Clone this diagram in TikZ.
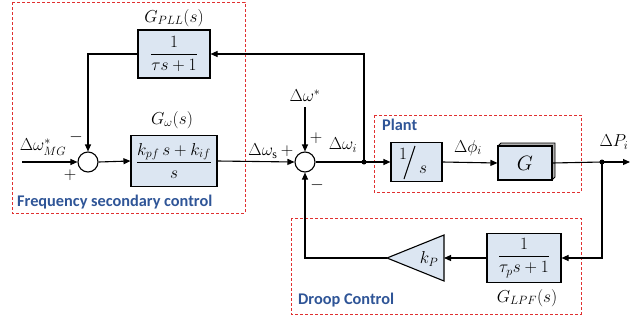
\documentclass[tikz,border=0pt]{standalone}
\usepackage{amsmath}
\usepackage{fontspec}
\setmainfont{Liberation Serif}
\newfontfamily\labfont{Carlito}
\usetikzlibrary{arrows.meta}
\definecolor{boxfill}{HTML}{DCE6F2}
\definecolor{grpred}{HTML}{E03030}
\definecolor{grpblue}{HTML}{2F5597}
\begin{document}
\begin{tikzpicture}[x=1pt,y=-1pt,
  blk/.style={draw,line width=1.1pt,fill=boxfill,inner sep=0pt,font=\fontsize{18}{20}\selectfont},
  sumc/.style={circle,draw,line width=1.1pt,fill=white,minimum size=20pt,inner sep=0pt},
  wire/.style={line width=1.1pt},
  arr/.style={wire,-{Triangle[length=7pt,width=6pt]}},
  grp/.style={draw=grpred,dash pattern=on 3pt off 2pt,line width=0.9pt},
  grplab/.style={font=\labfont\bfseries\fontsize{16.3}{18}\selectfont,text=grpblue,anchor=west,inner sep=0pt},
  lab/.style={font=\fontsize{17}{20}\selectfont,inner sep=0pt},
  dot/.style={circle,fill,inner sep=0pt,minimum size=5pt}]
\useasboundingbox (0,0) rectangle (641,322);
% groups
\draw[grp] (12,2) rectangle (245,213);
\draw[grp] (374,115) rectangle (581,192);
\draw[grp] (291,218) rectangle (581,314);
\node[grplab] (fsc) at (17,202) {Frequency secondary control};
\node[grplab] (plantl) at (382,125) {Plant};
\node[grplab] (droopl) at (298,300) {Droop Control};
% blocks
\node[sumc] (s1) at (88,162) {};
\node[sumc] (s2) at (305,162) {};
\node[blk,minimum width=72pt,minimum height=48pt] (gpll) at (174,54) {$\dfrac{1}{\tau s+1}$};
\node[blk,minimum width=86pt,minimum height=51pt] (gw) at (174,161) {$\dfrac{k_{pf}\,s+k_{if}}{s}$};
\node[blk,minimum width=51pt,minimum height=39pt] (integ) at (416.5,162) {};
\node[lab,font=\fontsize{19}{20}\selectfont] (one) at (403,154) {$1$};
\node[lab,font=\fontsize{19}{20}\selectfont] (sv) at (423,170) {$s$};
\draw[line width=1pt] (415,146) -- (404,179);
\fill[gray!60,draw=black,line width=0.8pt] (498,146) -- (501,143) -- (555,143) -- (555,177) -- (552,180) -- (552,146) -- cycle;
\node[blk,minimum width=54pt,minimum height=34pt,font=\fontsize{21}{22}\selectfont] (gp) at (525,163) {$G$};
\node[blk,minimum width=74pt,minimum height=49pt] (glpf) at (524,258) {$\dfrac{1}{\tau_{p}s+1}$};
\coordinate (kptip) at (387,258);
\coordinate (kpbase) at (444,258);
\draw[line width=1.1pt,fill=boxfill] (kptip) -- (444,235) -- (444,281) -- cycle;
\node[lab,font=\fontsize{18}{20}\selectfont] (kp) at (429,259) {$k_P$};
% junctions
\node[dot] (j1) at (364,162) {};
\node[dot] (j2) at (602,162) {};
\coordinate (in) at (22,162);
\coordinate (out) at (630,162);
\coordinate (wref) at (305,107);
% connectors
\draw[arr] (in) -- (s1.west);
\draw[arr] (s1.east) -- (gw.west);
\draw[arr] (gw.east) -- (s2.west);
\draw[wire] (s2.east) -- (j1.center);
\draw[arr] (j1.center) -- (integ.west);
\draw[arr] (integ.east) -- (gp.west);
\draw[wire] (gp.east) -- (j2.center);
\draw[arr] (j2.center) -- (out);
\draw[arr] (j2.center) |- (glpf.east);
\draw[arr] (glpf.west) -- (kpbase);
\draw[arr] (kptip) -| (s2.south);
\draw[arr] (j1.center) |- (gpll.east);
\draw[arr] (gpll.west) -| (s1.north);
\draw[arr] (wref) -- (s2.north);
% labels
\node[lab] (lgpll) at (174,18) {$G_{PLL}(s)$};
\node[lab] (lgw) at (172,120) {$G_{\omega}(s)$};
\node[lab] (lglpf) at (527,298) {$G_{LPF}(s)$};
\node[lab] (lin) at (43,147) {$\Delta\omega^{*}_{MG}$};
\node[lab] (m1) at (76,137) {$-$};
\node[lab] (p1) at (70,175) {$+$};
\node[lab] (lws) at (263,151) {$\Delta\omega_{\mathrm{s}}$};
\node[lab] (p2) at (287,151) {$+$};
\node[lab] (lwr) at (305,96) {$\Delta\omega^{*}$};
\node[lab] (p3) at (316,138) {$+$};
\node[lab] (m2) at (317,185) {$-$};
\node[lab] (lwi) at (343,145) {$\Delta\omega_{i}$};
\node[lab] (lphi) at (468,148) {$\Delta\phi_{i}$};
\node[lab] (lpi) at (614,142) {$\Delta P_{i}$};
\end{tikzpicture}
\end{document}
